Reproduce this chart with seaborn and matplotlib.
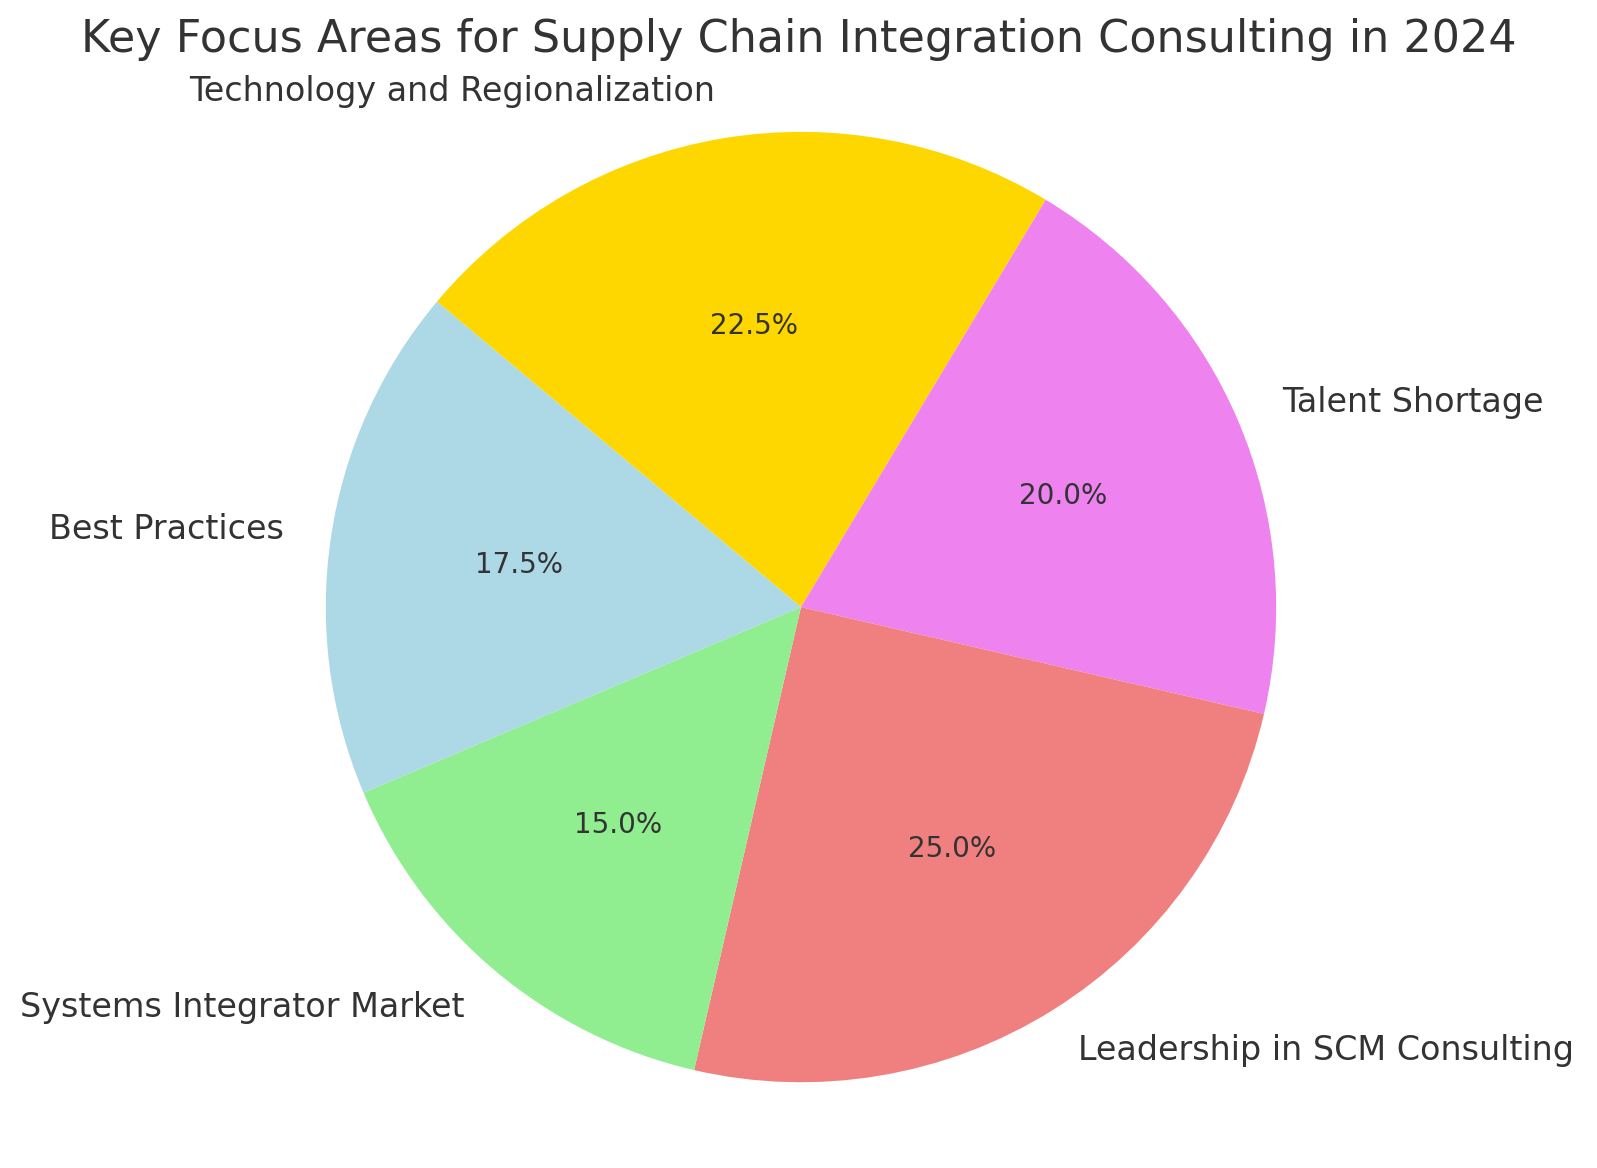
import matplotlib
matplotlib.use("Agg")
import matplotlib.pyplot as plt
import seaborn as sns

categories = ["Technology and Regionalization", "Talent Shortage", "Leadership in SCM Consulting",
              "Systems Integrator Market", "Best Practices"]
values = [22.5, 20.0, 25.0, 15.0, 17.5]
colors = ["gold", "violet", "lightcoral", "lightgreen", "lightblue"]

sns.set_theme(style="white")
plt.rcParams['font.family'] = ['DejaVu Sans']

fig = plt.figure(figsize=(15.97, 11.68), dpi=100)
ax = fig.add_axes([0.1296, -0.0283, 0.7439, 1.0171])
wedges, texts, autotexts = ax.pie(values, labels=categories, colors=colors, autopct='%1.1f%%',
                                  startangle=140, counterclock=False,
                                  wedgeprops={'linewidth': 0, 'edgecolor': 'none'},
                                  textprops={'fontsize': 24, 'color': '#333333'})
for t in autotexts:
    t.set_fontsize(20)
ax.set_aspect('equal')
fig.suptitle("Key Focus Areas for Supply Chain Integration Consulting in 2024",
             fontsize=32, color='#333333', y=0.9666, va='center')
fig.savefig("out.png", dpi=100)
